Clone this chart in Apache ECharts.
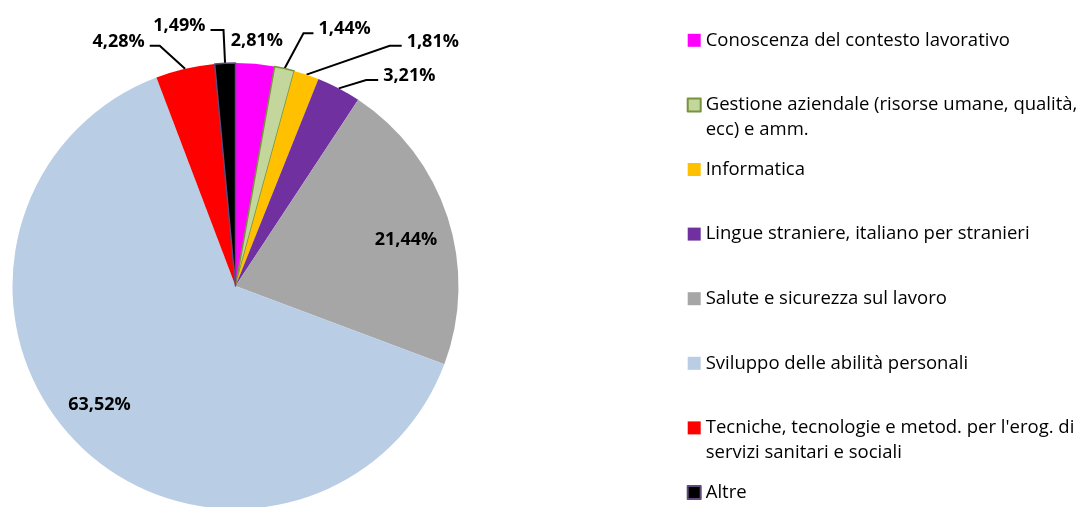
<!DOCTYPE html>
<html>
<head>
<meta charset="utf-8">
<script src="https://cdn.jsdelivr.net/npm/echarts@6/dist/echarts.min.js"></script>
<style>
  html, body { margin: 0; padding: 0; background: #ffffff; }
  #chart { width: 1082px; height: 507px; }
</style>
</head>
<body>
<div id="chart"></div>
<script>
// Course areas and their share of training hours (%)
const categories = [
  'Conoscenza del contesto lavorativo',
  'Gestione aziendale (risorse umane, qualità, ecc) e amm.',
  'Informatica',
  'Lingue straniere, italiano per stranieri',
  'Salute e sicurezza sul lavoro',
  'Sviluppo delle abilità personali',
  "Tecniche, tecnologie e metod. per l'erog. di servizi sanitari e sociali",
  'Altre'
];
const values = [2.81, 1.44, 1.81, 3.21, 21.44, 63.52, 4.28, 1.49];

// Legend text, wrapped as it is shown
const legendLines = [
  ['Conoscenza del contesto lavorativo'],
  ['Gestione aziendale (risorse umane, qualità,', 'ecc) e amm.'],
  ['Informatica'],
  ['Lingue straniere, italiano per stranieri'],
  ['Salute e sicurezza sul lavoro'],
  ['Sviluppo delle abilità personali'],
  ["Tecniche, tecnologie e metod. per l'erog. di", 'servizi sanitari e sociali'],
  ['Altre']
];

// Slice styling
const colors = ['#FF00FF', '#C3D69B', '#FFC000', '#7030A0', '#A6A6A6', '#B9CDE5', '#FF0000', '#000000'];
const borders = [null, '#77933C', null, null, null, null, null, '#604A7B'];

// Which labels sit inside the pie, and leader line lengths for the outer ones
const insideLabel = [false, false, false, false, true, true, false, false];
const lineLen = [19, 36, 30.5, 9.5, 0, 0, 23.7, 33.2];
const lineLen2 = [0, 21, 85.5, 35, 0, 0, 30, 13];
const showLine = [false, true, true, true, false, false, true, true];
// length of the short horizontal tail of each leader line
const tailLen = [0, 10, 12, 12, 0, 0, 10, 13];
// small nudges for the two labels drawn inside the pie
const innerDx = [0, 0, 0, 0, -2, -8, 0, 0];
const innerDy = [0, 0, 0, 0, 10, -10, 0, 0];

const FONT = '"Open Sans", "Noto Sans", sans-serif';
const fmtPct = v => v.toFixed(2).replace('.', ',') + '%';

const CX = 235.5, CY = 286, R = 223;

const mainData = categories.map((name, i) => ({
  name: name,
  value: values[i],
  itemStyle: {
    color: colors[i],
    borderColor: borders[i] || colors[i],
    borderWidth: borders[i] ? 1.5 : 0
  },
  label: { show: !insideLabel[i] },
  labelLine: {
    show: showLine[i],
    length: lineLen[i],
    length2: lineLen2[i]
  }
}));

const innerData = categories.map((name, i) => ({
  name: name,
  value: values[i],
  label: { show: insideLabel[i] }
}));

const legendMap = {};
categories.forEach((name, i) => {
  const lines = legendLines[i];
  // three rows per entry so the marker lines up with the first text row
  legendMap[name] = lines.length === 1 ? '\n' + lines[0] + '\n' : '\n' + lines[0] + '\n' + lines[1];
});

const chart = echarts.init(document.getElementById('chart'), null, { renderer: 'canvas' });

chart.setOption({
  animation: false,
  backgroundColor: '#ffffff',
  legend: {
    data: categories,
    orient: 'vertical',
    left: 686.7,
    top: 2.8,
    height: 700,
    padding: 0,
    itemWidth: 13,
    itemHeight: 13,
    itemGap: -10.4,
    icon: 'rect',
    selectedMode: false,
    formatter: name => legendMap[name],
    textStyle: {
      fontFamily: FONT,
      fontSize: 18.5,
      lineHeight: 25,
      color: '#000000'
    }
  },
  series: [
    {
      type: 'pie',
      center: [CX, CY],
      radius: R,
      startAngle: 90,
      clockwise: true,
      avoidLabelOverlap: false,
      data: mainData,
      label: {
        position: 'outside',
        // trailing empty row lifts the value above the end of its leader line
        formatter: p => fmtPct(p.value) + '\n',
        fontFamily: FONT,
        fontSize: 18,
        fontWeight: 'bold',
        lineHeight: 8,
        color: '#000000'
      },
      labelLine: {
        lineStyle: { color: '#000000', width: 2 }
      },
      labelLayout: function (p) {
        const i = p.dataIndex;
        // the first slice's label is centred above the slice
        if (i === 0) {
          return { dx: -p.labelRect.width / 2 - 5 };
        }
        const pts = p.labelLinePoints;
        if (pts && pts.length === 3 && tailLen[i]) {
          // straight run from the slice edge to a short horizontal tail
          const start = pts[0], end = pts[2];
          const dir = end[0] >= start[0] ? 1 : -1;
          return {
            labelLinePoints: [
              [start[0], start[1]],
              [end[0] - dir * tailLen[i], end[1]],
              [end[0], end[1]]
            ]
          };
        }
        return {};
      },
      emphasis: { disabled: true }
    },
    {
      type: 'pie',
      center: [CX, CY],
      radius: [R * 0.6, R],
      startAngle: 90,
      clockwise: true,
      silent: true,
      avoidLabelOverlap: false,
      itemStyle: { color: 'rgba(0,0,0,0)', borderWidth: 0 },
      data: innerData,
      label: {
        position: 'inside',
        formatter: p => fmtPct(p.value),
        fontFamily: FONT,
        fontSize: 18,
        fontWeight: 'bold',
        color: '#000000'
      },
      labelLine: { show: false },
      labelLayout: function (p) {
        return { dx: innerDx[p.dataIndex], dy: innerDy[p.dataIndex] };
      },
      emphasis: { disabled: true }
    }
  ]
});
</script>
</body>
</html>
